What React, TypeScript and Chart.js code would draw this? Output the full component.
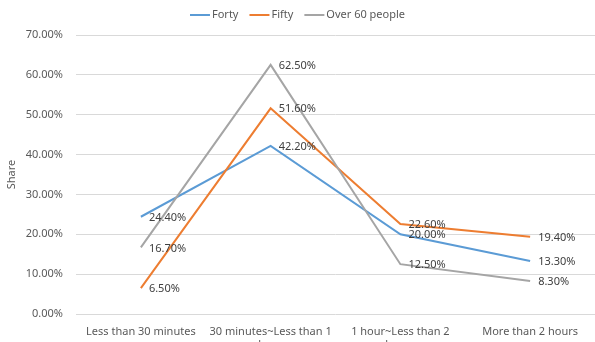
import React, { useEffect, useRef } from "react";
import { Chart, registerables } from "chart.js";

Chart.register(...registerables);

const CATEGORIES: string[][] = [
  ["Less than 30 minutes"],
  ["30 minutes~Less than 1", "hour"],
  ["1 hour~Less than 2", "hours"],
  ["More than 2 hours"],
];

const FORTY = [24.4, 42.2, 20.0, 13.3];
const FIFTY = [6.5, 51.6, 22.6, 19.4];
const OVER_60 = [16.7, 62.5, 12.5, 8.3];

const SERIES_NAMES = ["Forty", "Fifty", "Over 60 people"];
const SERIES_COLORS = ["#5b9bd5", "#ed7d31", "#a5a5a5"];

const Y_MIN = 0;
const Y_MAX = 70;
const Y_STEP = 10;

const FONT = "'Noto Sans', 'Open Sans', sans-serif";
const TEXT_COLOR = "#595959";
const LABEL_COLOR = "#404040";

// Writes each point's percentage just to the right of the point.
const valueLabels = {
  id: "valueLabels",
  afterDatasetsDraw(chart: Chart) {
    const ctx = chart.ctx;
    ctx.save();
    ctx.font = `11px ${FONT}`;
    ctx.fillStyle = LABEL_COLOR;
    ctx.textAlign = "left";
    ctx.textBaseline = "middle";
    chart.data.datasets.forEach((ds, i) => {
      const meta = chart.getDatasetMeta(i);
      meta.data.forEach((pt: any, j: number) => {
        const v = ds.data[j] as number;
        ctx.fillText(v.toFixed(2) + "%", pt.x + 8, pt.y + 1);
      });
    });
    ctx.restore();
  },
};

// Centered legend row with short line samples above the plot.
const topLegend = {
  id: "topLegend",
  afterDraw(chart: Chart) {
    const ctx = chart.ctx;
    ctx.save();
    ctx.font = `11px ${FONT}`;
    ctx.textBaseline = "middle";
    ctx.textAlign = "left";
    const sample = 20;
    const gap = 2;
    const itemGap = 11;
    const widths = SERIES_NAMES.map((n) => sample + gap + ctx.measureText(n).width);
    const total = widths.reduce((a, b) => a + b, 0) + itemGap * (widths.length - 1);
    let x = (chart.width - total) / 2;
    const y = 15;
    SERIES_NAMES.forEach((name, i) => {
      ctx.strokeStyle = SERIES_COLORS[i];
      ctx.lineWidth = 2;
      ctx.beginPath();
      ctx.moveTo(x, y);
      ctx.lineTo(x + sample, y);
      ctx.stroke();
      ctx.fillStyle = TEXT_COLOR;
      ctx.fillText(name, x + sample + gap, y);
      x += widths[i] + itemGap;
    });
    ctx.restore();
  },
};

export default function App() {
  const canvasRef = useRef<HTMLCanvasElement | null>(null);

  useEffect(() => {
    const canvas = canvasRef.current;
    if (!canvas) return;
    const values = [FORTY, FIFTY, OVER_60];
    const chart = new Chart(canvas, {
      type: "line",
      data: {
        labels: CATEGORIES,
        datasets: values.map((data, i) => ({
          label: SERIES_NAMES[i],
          data,
          borderColor: SERIES_COLORS[i],
          backgroundColor: SERIES_COLORS[i],
          borderWidth: 2,
          pointRadius: 0,
          pointHoverRadius: 0,
          tension: 0,
          fill: false,
          order: values.length - i,
        })),
      },
      options: {
        animation: false,
        responsive: false,
        devicePixelRatio: 1,
        layout: { padding: { top: 35, right: 0, left: 0, bottom: 0 } },
        plugins: {
          legend: { display: false },
          tooltip: { enabled: false },
        },
        scales: {
          x: {
            offset: true,
            grid: { display: false, drawTicks: false },
            border: { display: false },
            ticks: {
              color: TEXT_COLOR,
              font: { family: FONT, size: 11 },
              padding: 11,
              maxRotation: 0,
              autoSkip: false,
            },
            afterFit(scale: any) {
              scale.height = 28;
            },
          },
          y: {
            min: Y_MIN,
            max: Y_MAX,
            grid: { color: "#d9d9d9", lineWidth: 1, drawTicks: false },
            border: { display: false },
            ticks: {
              stepSize: Y_STEP,
              color: TEXT_COLOR,
              font: { family: FONT, size: 11 },
              padding: 13,
              callback: (v: any) => Number(v).toFixed(2) + "%",
            },
            title: {
              display: true,
              text: "Share",
              color: TEXT_COLOR,
              font: { family: FONT, size: 11 },
              padding: { top: 5, bottom: 0 },
            },
            afterFit(scale: any) {
              scale.width = 76;
            },
          },
        },
      },
      plugins: [valueLabels, topLegend],
    });
    return () => chart.destroy();
  }, []);

  return (
    <div style={{ position: "fixed", left: 0, top: 0, width: 595, height: 342, background: "#ffffff" }}>
      <canvas ref={canvasRef} width={595} height={342} />
    </div>
  );
}
